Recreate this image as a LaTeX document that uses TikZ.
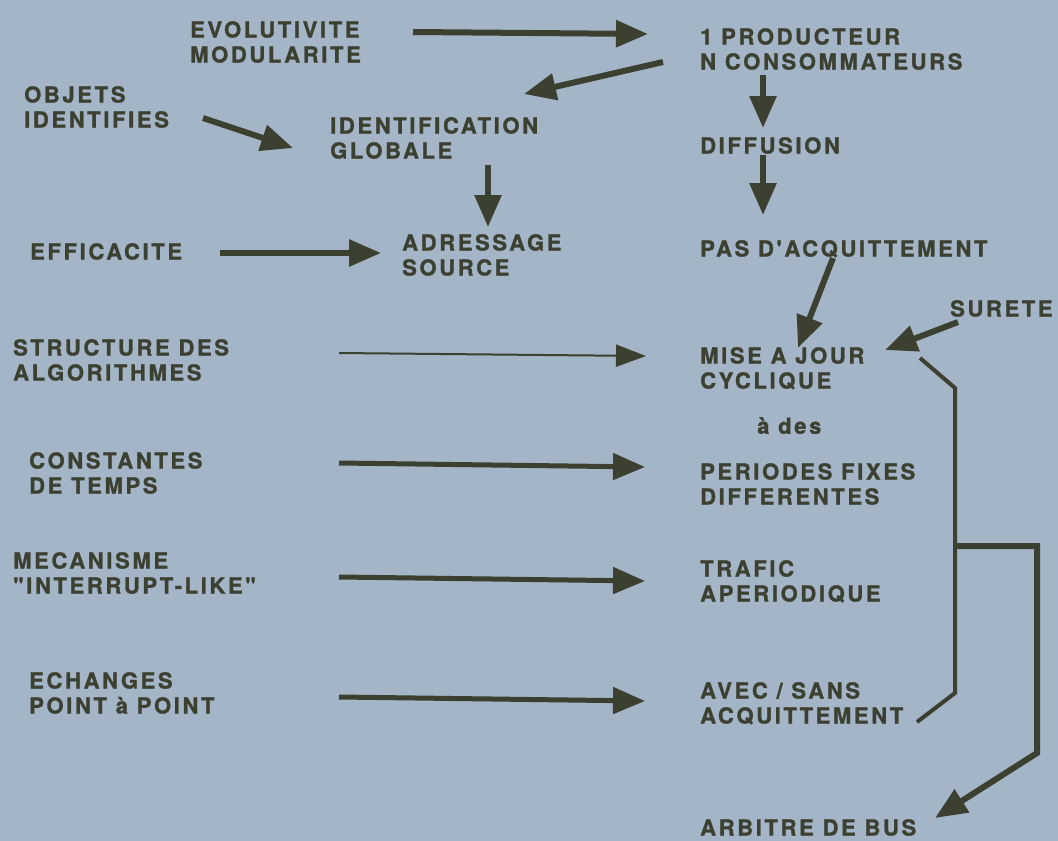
\documentclass[tikz,border=0pt]{standalone}
\usepackage{fontspec}
\setmainfont{TeX Gyre Heros}[LetterSpace=12,Ligatures=TeXOff,BoldFeatures={FakeBold=1.2}]
\usetikzlibrary{arrows.meta}
\definecolor{slide}{RGB}{164,181,199}
\definecolor{ink}{RGB}{60,64,48}

\begin{document}
\begin{tikzpicture}[x=1pt,y=-1pt,
  txt/.style={anchor=north west, inner sep=0pt, align=left, text=ink,
    font=\fontsize{22}{25}\selectfont\bfseries},
  arr/.style={draw=ink, line width=6pt, -{Triangle[length=32pt,width=26pt]}},
  thin arr/.style={draw=ink, line width=2pt, -{Triangle[length=30pt,width=22pt]}},
  brace/.style={draw=ink, line width=4pt, line join=miter}]
\fill[slide] (0,0) rectangle (1058,841);
\useasboundingbox (0,0) rectangle (1058,841);
%%left column
\node[txt] (evol) at (190,21) {EVOLUTIVITE\\MODULARITE};
\node[txt] (objets) at (24,86) {OBJETS\\IDENTIFIES};
\node[txt] (eff) at (30,243) {EFFICACITE};
\node[txt] (struct) at (13,339) {STRUCTURE DES\\ALGORITHMES};
\node[txt] (const) at (29,452) {CONSTANTES\\DE TEMPS};
\node[txt] (meca) at (13,552) {MECANISME\\"INTERRUPT-LIKE"};
\node[txt] (echange) at (29,672) {ECHANGES\\POINT à POINT};
%%middle
\node[txt] (ident) at (330,117) {IDENTIFICATION\\GLOBALE};
\node[txt] (adr) at (402,234) {ADRESSAGE\\SOURCE};
%%right column
\node[txt] (prod) at (700,28) {1 PRODUCTEUR\\N CONSOMMATEURS};
\node[txt] (diff) at (700,137) {DIFFUSION};
\node[txt] (pas) at (700,240) {PAS D'ACQUITTEMENT};
\node[txt] (surete) at (950,300) {SURETE};
\node[txt] (mise) at (700,347) {MISE A JOUR\\CYCLIQUE};
\node[txt] (ades) at (757,417) {à des};
\node[txt] (period) at (700,463) {PERIODES FIXES\\DIFFERENTES};
\node[txt] (trafic) at (700,560) {TRAFIC\\APERIODIQUE};
\node[txt] (avec) at (700,682) {AVEC / SANS\\ACQUITTEMENT};
\node[txt] (arbitre) at (700,819) {ARBITRE DE BUS};
%%arrows
\draw[arr] ([shift={(223,11)}]evol.north west) -- ([shift={(-52,6)}]prod.north west);
\draw[arr] ([shift={(-37,34)}]prod.north west) -- ([shift={(194,-23)}]ident.north west);
\draw[arr] ([shift={(179,32)}]objets.north west) -- ([shift={(-37,31)}]ident.north west);
\draw[arr] ([shift={(158,48)}]ident.north west) -- ([shift={(158,-7)}]adr.north west -| ident.north west);
\draw[arr] ([shift={(190,10)}]eff.north west) -- ([shift={(-21,19)}]adr.north west);
\draw[arr] ([shift={(63,47)}]prod.north west) -- ([shift={(63,-9)}]diff.north west);
\draw[arr] ([shift={(63,18)}]diff.north west) -- ([shift={(63,-25)}]pas.north west);
\draw[arr] ([shift={(133,18)}]pas.north west) -- ([shift={(98,1)}]mise.north west);
\draw[arr] ([shift={(8,22)}]surete.north west) -- ([shift={(185,3)}]mise.north west);
\draw[thin arr] ([shift={(326,14)}]struct.north west) -- ([shift={(-54,9)}]mise.north west);
\draw[arr, line width=5pt] ([shift={(310,11)}]const.north west) -- ([shift={(-55,4)}]period.north west);
\draw[arr, line width=5pt] ([shift={(326,25)}]meca.north west) -- ([shift={(-55,21)}]trafic.north west);
\draw[arr, line width=5pt] ([shift={(310,25)}]echange.north west) -- ([shift={(-55,19)}]avec.north west);
%%bracket and bus arbiter
\coordinate (junc) at (955,546);
\draw[brace] ([shift={(220,11)}]mise.north west) -- (955,388) -- (955,693) -- ([shift={(217,40)}]avec.north west);
\draw[arr, line join=miter] (junc) -- (1037,546) -- (1037,753) -- ([shift={(235,-1)}]arbitre.north west);
\end{tikzpicture}
\end{document}
